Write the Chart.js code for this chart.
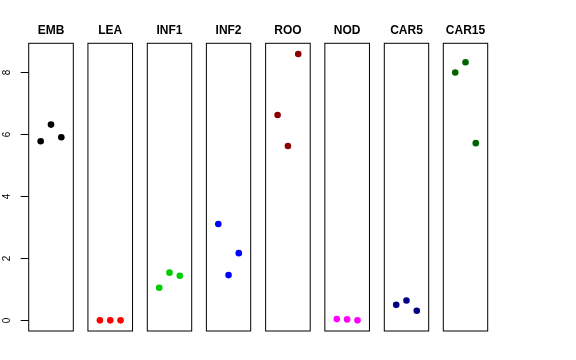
<!DOCTYPE html>
<html>
<head>
<meta charset="utf-8">
<script src="https://cdn.jsdelivr.net/npm/chart.js@4/dist/chart.umd.min.js"></script>
<style>
    html, body { margin: 0; padding: 0; background: #fff; }
    #wrap { position: relative; width: 576px; height: 360px; overflow: hidden; }
    .panel { position: absolute; top: 0; height: 360px; }
</style>
</head>
<body>
<div id="wrap"></div>
<script>
    // tissues, one panel each
    const PANELS = ['EMB', 'LEA', 'INF1', 'INF2', 'ROO', 'NOD', 'CAR5', 'CAR15'];
    const COLORS = ['#000000', '#ff0000', '#00cd00', '#0000ff', '#8b0000', '#ff00ff', '#000080', '#006400'];

    // three replicates per tissue
    const REPS = [1, 2, 3];
    const EMB = [5.78, 6.32, 5.91];
    const LEA = [0.0, 0.0, 0.0];
    const INF1 = [1.05, 1.54, 1.44];
    const INF2 = [3.11, 1.46, 2.17];
    const ROO = [6.63, 5.63, 8.60];
    const NOD = [0.04, 0.03, 0.0];
    const CAR5 = [0.50, 0.64, 0.31];
    const CAR15 = [8.00, 8.33, 5.72];
    const SERIES = [EMB, LEA, INF1, INF2, ROO, NOD, CAR5, CAR15];

    const Y_TICKS = [0, 2, 4, 6, 8];
    const Y_MIN = -0.344, Y_MAX = 8.944;
    const X_MIN = -0.16, X_MAX = 4.16;

    // panel geometry (px)
    const FIRST_LEFT = 28.7, STEP = 59.23, BOX_W = 44.6, BOX_TOP = 43.3, BOX_BOTTOM = 331;
    const TITLE_PAD = 23.6, TITLE_SIZE = 12;

    Chart.defaults.font.family = '"Liberation Sans", Arial, Helvetica, sans-serif';
    Chart.defaults.color = '#000';

    const boxFrame = {
        id: 'boxFrame',
        beforeDatasetsDraw(c) {
            const a = c.chartArea, ctx = c.ctx;
            ctx.save();
            ctx.strokeStyle = '#000';
            ctx.lineWidth = 1;
            ctx.strokeRect(a.left, a.top, a.right - a.left, a.bottom - a.top);
            ctx.restore();
        }
    };

    const wrap = document.getElementById('wrap');

    PANELS.forEach((name, i) => {
        const first = i === 0;
        const left = FIRST_LEFT + i * STEP;
        const right = left + BOX_W;
        const divLeft = first ? 0 : Math.floor(left) - 3;
        const divW = Math.ceil(right) + 3 - divLeft;

        const div = document.createElement('div');
        div.className = 'panel';
        div.style.left = divLeft + 'px';
        div.style.width = divW + 'px';
        const cv = document.createElement('canvas');
        div.appendChild(cv);
        wrap.appendChild(div);

        const yScale = {
            display: first,
            min: Y_MIN,
            max: Y_MAX,
            afterBuildTicks: (s) => { s.ticks = Y_TICKS.map((v) => ({ value: v })); },
            grid: { drawOnChartArea: false, tickLength: 8, tickColor: '#000', tickWidth: 1 },
            border: { display: false },
            ticks: { minRotation: 90, maxRotation: 90, crossAlign: 'center', padding: 11, color: '#000', font: { size: 10 } },
        };
        if (first) yScale.afterFit = (s) => { s.width = FIRST_LEFT; };

        new Chart(cv, {
            type: 'scatter',
            data: {
                datasets: [{
                    data: REPS.map((x, k) => ({ x, y: SERIES[i][k] })),
                    backgroundColor: COLORS[i],
                    borderWidth: 0,
                    pointRadius: 3.3,
                    pointHoverRadius: 3.3,
                    clip: false,
                }],
            },
            options: {
                responsive: true,
                maintainAspectRatio: false,
                animation: false,
                events: [],
                layout: {
                    padding: {
                        left: first ? 0 : left - divLeft,
                        right: divLeft + divW - right,
                        top: 0,
                        bottom: 360 - BOX_BOTTOM,
                    },
                },
                plugins: {
                    legend: { display: false },
                    tooltip: { enabled: false },
                    title: {
                        display: true,
                        text: name,
                        fullSize: false,
                        color: '#000',
                        font: { size: TITLE_SIZE, weight: 'bold', lineHeight: 1.2 },
                        padding: { top: TITLE_PAD, bottom: BOX_TOP - TITLE_PAD - TITLE_SIZE * 1.2 },
                    },
                },
                scales: {
                    x: { type: 'linear', display: false, min: X_MIN, max: X_MAX },
                    y: yScale,
                },
            },
            plugins: [boxFrame],
        });
    });
</script>
</body>
</html>
